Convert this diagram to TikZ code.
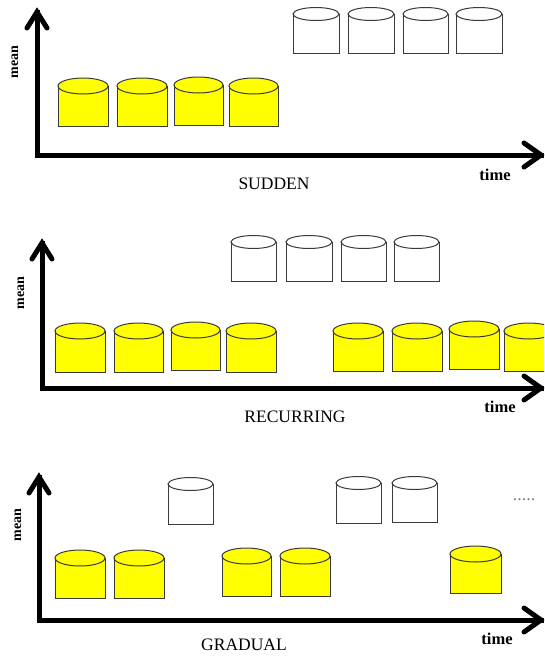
\documentclass[tikz,border=0pt]{standalone}
\usepackage{fontspec}
\setmainfont{Liberation Serif}
\definecolor{drumline}{HTML}{3A3A3A}
\definecolor{drumyellow}{HTML}{FFFF00}
\newcommand{\drum}[6]{%
  \pgfmathsetmacro\drx{(#2-#1)/2}%
  \pgfmathsetmacro\dcx{(#2+#1)/2}%
  \fill[#6] (#1,#3) rectangle (#2,#5);
  \filldraw[fill=#6, draw=drumline, line width=1pt] (\dcx,#3) ellipse [x radius=\drx, y radius=#4];
  \draw[drumline, line width=1pt] (#1,#3) -- (#1,#5) -- (#2,#5) -- (#2,#3);
}
\tikzset{
  axisline/.style={line width=5pt, line cap=rect},
  axishead/.style={line width=5pt, line cap=round, line join=miter},
  meanlbl/.style={font=\fontsize{14}{16}\selectfont\bfseries, rotate=90, inner sep=0pt},
  timelbl/.style={font=\fontsize{16.5}{18}\selectfont\bfseries, inner sep=0pt},
  titlelbl/.style={font=\fontsize{17.5}{20}\selectfont, inner sep=0pt},
}
\begin{document}
\begin{tikzpicture}[x=1pt, y=-1pt]
\useasboundingbox (0,0) rectangle (544,656);
\clip (0,0) rectangle (544,656);

% ---------- Panel 1: SUDDEN ----------
\coordinate (o1) at (37,155);
\coordinate (y1) at (37,12);
\coordinate (x1) at (541,155);
\draw[axisline] (y1) -- (o1) -- (x1);
\draw[axishead] ([shift={(-10,16)}]y1) -- (y1) -- ([shift={(10,16)}]y1);
\draw[axishead] ([shift={(-17,-12)}]x1) -- (x1) -- ([shift={(-17,12)}]x1);
\node[meanlbl] (m1) at (15,62) {mean};
\node[timelbl] (t1) at (495,175) {time};
\node[titlelbl] (s1) at (274,184) {SUDDEN};
\drum{58}{108}{86}{8}{126}{drumyellow}
\drum{117}{167}{86}{8}{126}{drumyellow}
\drum{174}{223}{85}{8}{125}{drumyellow}
\drum{229}{278}{86}{8}{126}{drumyellow}
\drum{293}{339}{14}{6.5}{53}{white}
\drum{348}{394}{14}{6.5}{53}{white}
\drum{403}{448}{14}{6.5}{53}{white}
\drum{456}{502}{14}{6.5}{53}{white}

% ---------- Panel 2: RECURRING ----------
\coordinate (o2) at (42,388);
\coordinate (y2) at (42,243);
\coordinate (x2) at (541,388);
\draw[axisline] (y2) -- (o2) -- (x2);
\draw[axishead] ([shift={(-10,16)}]y2) -- (y2) -- ([shift={(10,16)}]y2);
\draw[axishead] ([shift={(-17,-12)}]x2) -- (x2) -- ([shift={(-17,12)}]x2);
\node[meanlbl] (m2) at (21,293) {mean};
\node[timelbl] (t2) at (500,407) {time};
\node[titlelbl] (s2) at (295,417) {RECURRING};
\drum{55}{105}{331}{8}{372}{drumyellow}
\drum{114}{163}{331}{8}{372}{drumyellow}
\drum{171}{220}{330}{8}{370}{drumyellow}
\drum{226}{276}{331}{8}{372}{drumyellow}
\drum{333}{383}{331}{8}{371}{drumyellow}
\drum{392}{442}{331}{8}{371}{drumyellow}
\drum{449}{499}{329}{8}{369}{drumyellow}
\drum{504}{554}{331}{8}{371}{drumyellow}
\drum{231}{276}{242}{6.5}{281}{white}
\drum{286}{332}{242}{6.5}{281}{white}
\drum{341}{386}{242}{6.5}{281}{white}
\drum{394}{439}{242}{6.5}{281}{white}

% ---------- Panel 3: GRADUAL ----------
\coordinate (o3) at (39,620);
\coordinate (y3) at (39,477);
\coordinate (x3) at (541,620);
\draw[axisline] (y3) -- (o3) -- (x3);
\draw[axishead] ([shift={(-10,16)}]y3) -- (y3) -- ([shift={(10,16)}]y3);
\draw[axishead] ([shift={(-17,-12)}]x3) -- (x3) -- ([shift={(-17,12)}]x3);
\node[meanlbl] (m3) at (18,525) {mean};
\node[timelbl] (t3) at (497,639) {time};
\node[titlelbl] (s3) at (244,645) {GRADUAL};
\drum{55}{105}{558}{8}{598}{drumyellow}
\drum{114}{164}{558}{8}{598}{drumyellow}
\drum{222}{271}{556}{8}{596}{drumyellow}
\drum{280}{330}{556}{8}{596}{drumyellow}
\drum{450}{501}{554}{8}{593}{drumyellow}
\drum{168}{213}{484}{6.5}{524}{white}
\drum{336}{381}{483}{6.5}{523}{white}
\drum{392}{437}{483}{6.5}{522}{white}
\node[font=\fontsize{18}{20}\selectfont, text=gray, inner sep=0pt] (dots) at (524,500) {.....};
\end{tikzpicture}
\end{document}
